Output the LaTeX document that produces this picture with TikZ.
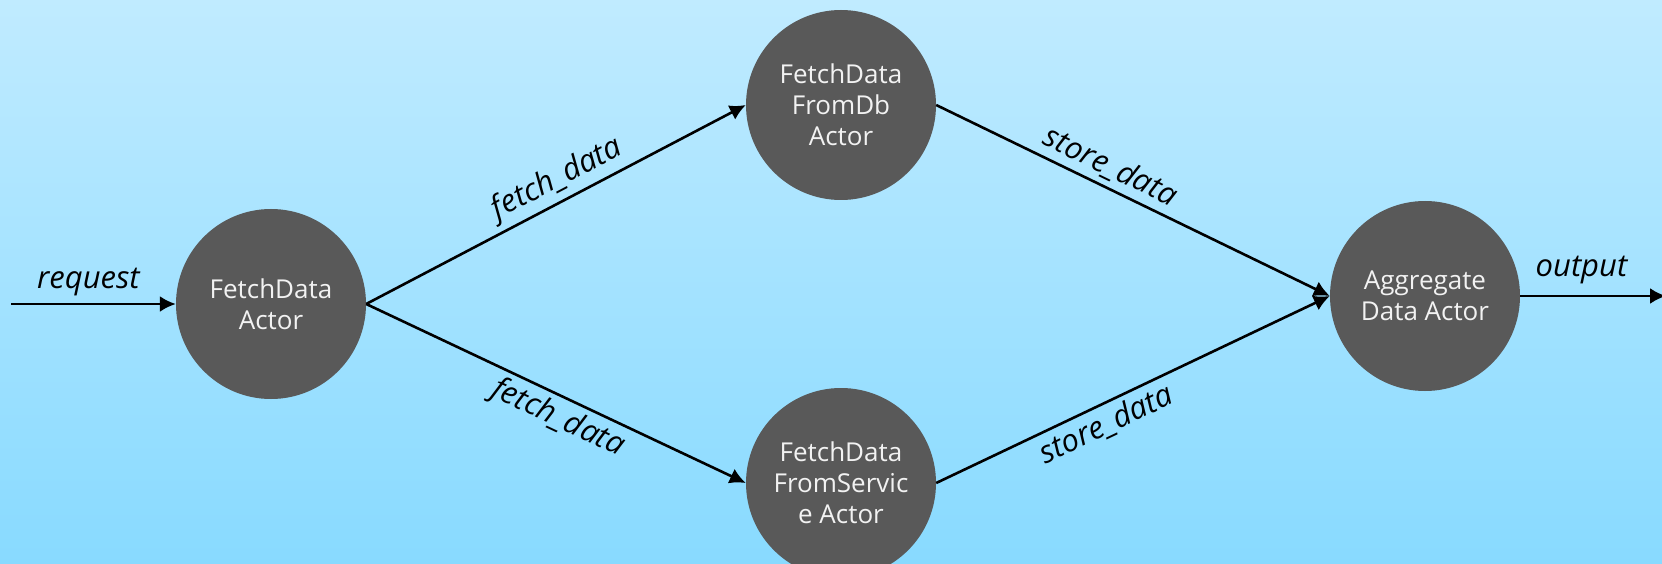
\documentclass[tikz,border=0pt]{standalone}
\usepackage{fontspec}
\setmainfont{Open Sans}
\usetikzlibrary{arrows.meta}
\definecolor{bgtop}{HTML}{C0EBFF}
\definecolor{bgbot}{HTML}{88DAFF}
\definecolor{actorfill}{HTML}{595959}
\definecolor{actortext}{HTML}{F2F2F2}
\tikzset{
  actor/.style={circle, fill=actorfill, minimum size=190pt, inner sep=0pt,
    text=actortext, align=center, font=\fontsize{26}{31}\selectfont},
  flow/.style={line width=2.6pt, -{Latex[length=16pt,width=16pt]}},
  lbl/.style={font=\fontsize{31}{34}\selectfont\itshape, inner sep=5pt}
}
\begin{document}
\begin{tikzpicture}[x=1pt,y=-1pt]
\shade[top color=bgtop, bottom color=bgbot] (0,0) rectangle (1662,564);
\useasboundingbox (0,0) rectangle (1662,564);
\begin{scope}
\clip (0,0) rectangle (1662,564);
\node[actor] (fd) at (271,304) {FetchData\\Actor};
\node[actor] (db) at (841,105) {FetchData\\FromDb\\Actor};
\node[actor] (sv) at (841,483) {FetchData\\FromServic\\e Actor};
\node[actor] (ag) at (1425,296) {Aggregate\\Data Actor};
\end{scope}
\coordinate (in) at (11,304);
\coordinate (out) at (1666,296);
\draw[flow] (in) -- node[lbl, above, pos=0.47, yshift=2pt] {request} (fd.west);
\draw[flow] (ag.east) -- node[lbl, above, pos=0.42, yshift=6pt] {output} (out);
\draw[flow] (fd.east) -- node[lbl, sloped, above, pos=0.53] {fetch\_data} (db.west);
\draw[flow] (fd.east) -- node[lbl, sloped, below, pos=0.53] {fetch\_data} (sv.west);
\draw[flow] (db.east) -- node[lbl, sloped, above, pos=0.42] {store\_data} (ag.west);
\draw[flow] (sv.east) -- node[lbl, sloped, below, pos=0.41] {store\_data} (ag.west);
\end{tikzpicture}
\end{document}
